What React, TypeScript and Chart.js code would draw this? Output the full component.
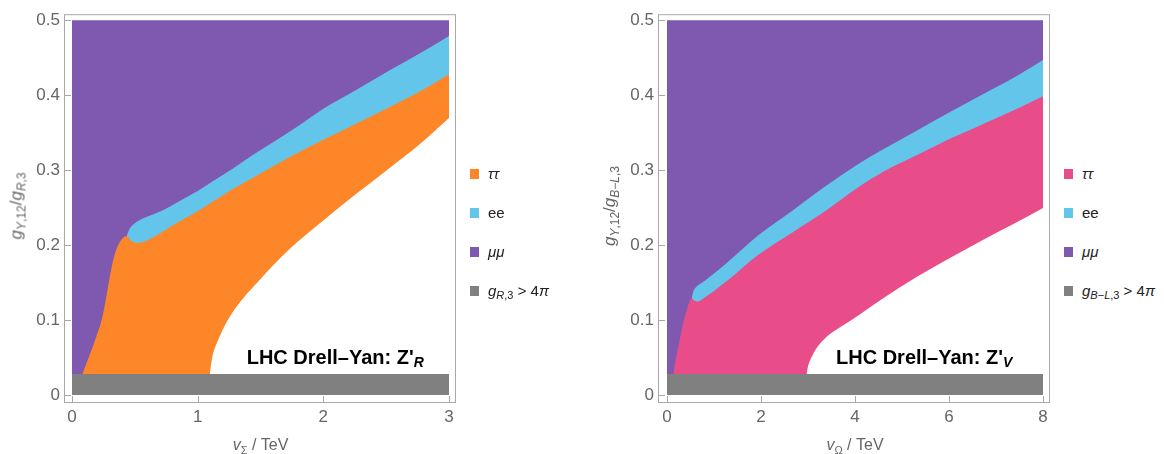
import React, { useEffect, useRef } from "react";
import { Chart, registerables } from "chart.js";

Chart.register(...registerables);

const FONT = "'Liberation Sans', Arial, Helvetica, sans-serif";

// ---- axes ----
const yTicks = [0, 0.1, 0.2, 0.3, 0.4, 0.5];
const xTicksR = [0, 1, 2, 3];
const xTicksV = [0, 2, 4, 6, 8];
const yRange = [-8 / 756, 0.5 + 6 / 756];
const xRangeR = [-24 / 377, 3 + 21 / 377];
const xRangeV = [-9 / 47, 8 + 7 / 47];

// ---- colours ----
const colMumu = "#7F58AF";
const colEe = "#64C5EB";
const colTauR = "#FD8628";
const colTauV = "#E84D8A";
const colGap = "#808080";
const colAllowed = "#ffffff";

// ---- Z'_R panel (v_Sigma / TeV) ----
const rMumuX = [0, 3];
const rMumuY = [0.5, 0.5];
const rEeX = [0.435, 0.46, 0.5, 0.573, 0.65, 0.732, 0.85, 1.0, 1.13, 1.263, 1.42, 1.6, 1.8, 2.0, 2.26, 2.525, 2.79, 3.0];
const rEeY = [0.212, 0.222, 0.229, 0.236, 0.241, 0.247, 0.258, 0.272, 0.286, 0.3, 0.318, 0.337, 0.359, 0.382, 0.407, 0.433, 0.458, 0.479];
const rTauX = [0.082, 0.135, 0.194, 0.242, 0.273, 0.3, 0.334, 0.374, 0.435, 0.467, 0.507, 0.573, 0.652, 0.732, 0.85, 1.0, 1.263, 1.528, 1.729, 1.995, 2.26, 2.525, 2.79, 3.0];
const rTauY = [0.028, 0.051, 0.078, 0.104, 0.131, 0.157, 0.184, 0.202, 0.212, 0.206, 0.203, 0.2046, 0.2107, 0.219, 0.231, 0.245, 0.273, 0.298, 0.317, 0.34, 0.362, 0.384, 0.407, 0.428];
const rAllowedX = [1.096, 1.117, 1.157, 1.21, 1.289, 1.369, 1.475, 1.597, 1.729, 1.995, 2.26, 2.525, 2.79, 3.0];
const rAllowedY = [0.028, 0.051, 0.071, 0.0908, 0.113, 0.1305, 0.15, 0.1724, 0.1945, 0.232, 0.268, 0.3025, 0.3378, 0.3695];
const rGapX = [0, 3];
const rGapY = [0.028, 0.028];

// ---- Z'_V panel (v_Omega / TeV) ----
const vMumuX = [0, 8];
const vMumuY = [0.5, 0.5];
const vEeX = [0.525, 0.56, 0.62, 0.75, 0.9, 1.234, 1.943, 2.652, 3.362, 4.07, 4.61, 5.32, 6.03, 6.74, 7.45, 8.0];
const vEeY = [0.129, 0.138, 0.144, 0.15, 0.157, 0.174, 0.213, 0.245, 0.278, 0.308, 0.328, 0.353, 0.378, 0.402, 0.426, 0.447];
const vTauX = [0.135, 0.17, 0.241, 0.326, 0.418, 0.489, 0.525, 0.58, 0.652, 0.809, 1.234, 1.943, 2.652, 3.362, 4.07, 4.61, 5.32, 6.03, 6.74, 7.45, 8.0];
const vTauY = [0.028, 0.042, 0.0644, 0.0908, 0.113, 0.126, 0.129, 0.126, 0.1248, 0.1305, 0.15, 0.187, 0.216, 0.245, 0.277, 0.298, 0.32, 0.342, 0.362, 0.382, 0.3986];
const vAllowedX = [2.97, 3.0, 3.08, 3.2, 3.36, 3.55, 3.75, 4.07, 4.6, 5.3, 6.0, 6.7, 7.4, 8.0];
const vAllowedY = [0.028, 0.038, 0.051, 0.064, 0.0755, 0.085, 0.093, 0.106, 0.129, 0.157, 0.182, 0.206, 0.229, 0.2495];
const vGapX = [0, 8];
const vGapY = [0.028, 0.028];

const mk = (label: string, xs: number[], ys: number[], color: string, order: number) => ({
  label,
  data: xs.map((x, i) => ({ x, y: ys[i] })),
  backgroundColor: color,
  borderColor: color,
  borderWidth: 0,
  pointRadius: 0,
  fill: "origin",
  order,
  cubicInterpolationMode: "monotone",
});

const framePlugin = {
  id: "mmaFrame",
  afterDraw(chart: any) {
    const { ctx, chartArea: a, scales } = chart;
    ctx.save();
    ctx.strokeStyle = "#a8a8a8";
    ctx.lineWidth = 1;
    ctx.strokeRect(a.left + 0.5, a.top + 0.5, a.right - a.left - 1, a.bottom - a.top - 1);
    ctx.beginPath();
    for (const t of scales.x.ticks) {
      const px = Math.round(scales.x.getPixelForValue(t.value)) + 0.5;
      ctx.moveTo(px, a.bottom);
      ctx.lineTo(px, a.bottom - 7);
    }
    for (const t of scales.y.ticks) {
      const py = Math.round(scales.y.getPixelForValue(t.value)) + 0.5;
      ctx.moveTo(a.left, py);
      ctx.lineTo(a.left + 7, py);
    }
    ctx.stroke();
    ctx.restore();
  },
};

type PanelProps = {
  left: number;
  width: number;
  yAxisWidth: number;
  xTicks: number[];
  xRange: number[];
  datasets: any[];
};

function Panel({ left, width, yAxisWidth, xTicks, xRange, datasets }: PanelProps) {
  const ref = useRef<HTMLCanvasElement | null>(null);
  useEffect(() => {
    if (!ref.current) return;
    const tickFont = { family: FONT, size: 17 };
    const chart = new Chart(ref.current, {
      type: "line",
      data: { datasets },
      options: {
        animation: false,
        responsive: false,
        events: [],
        layout: { padding: { left: 0, top: 11, right: 4, bottom: 0 } },
        plugins: { legend: { display: false }, tooltip: { enabled: false } },
        scales: {
          x: {
            type: "linear",
            min: xRange[0],
            max: xRange[1],
            afterBuildTicks: (s: any) => {
              s.ticks = xTicks.map((v) => ({ value: v }));
            },
            afterFit: (s: any) => {
              s.height = 51;
            },
            ticks: {
              font: tickFont,
              color: "#666666",
              padding: 4,
              maxRotation: 0,
              autoSkip: false,
              callback: (v: any) => String(v),
            },
            grid: { display: false, drawTicks: false },
            border: { display: false },
          },
          y: {
            type: "linear",
            min: yRange[0],
            max: yRange[1],
            afterBuildTicks: (s: any) => {
              s.ticks = yTicks.map((v) => ({ value: v }));
            },
            afterFit: (s: any) => {
              s.width = yAxisWidth;
            },
            ticks: {
              font: tickFont,
              color: "#666666",
              padding: 4,
              autoSkip: false,
              callback: (v: any) => (Number(v) === 0 ? "0" : Number(v).toFixed(1)),
            },
            grid: { display: false, drawTicks: false },
            border: { display: false },
          },
        },
      } as any,
      plugins: [framePlugin],
    });
    return () => chart.destroy();
  }, []);
  return (
    <canvas
      ref={ref}
      width={width}
      height={454}
      style={{ position: "absolute", left, top: 0, width, height: 454, display: "block" }}
    />
  );
}

const Sub = ({ children, size = 11, dy = 4 }: { children: any; size?: number; dy?: number }) => (
  <span style={{ fontSize: size, position: "relative", top: dy }}>{children}</span>
);

const abs = (extra: any) => ({ position: "absolute" as const, whiteSpace: "nowrap" as const, ...extra });

function Legend({ left, textLeft, tauColor, gapLabel }: { left: number; textLeft: number; tauColor: string; gapLabel: any }) {
  const rows = [
    { c: tauColor, t: <i>ττ</i>, yc: 174 },
    { c: colEe, t: <span>ee</span>, yc: 213 },
    { c: colMumu, t: <i>μμ</i>, yc: 252 },
    { c: colGap, t: gapLabel, yc: 290.5 },
  ];
  return (
    <>
      {rows.map((r, i) => (
        <React.Fragment key={i}>
          <div style={abs({ left, top: r.yc - 5, width: 9, height: 10, background: r.c })} />
          <div
            style={abs({
              left: textLeft,
              top: r.yc + 5 - 12.7,
              font: `15px/15px ${FONT}`,
              color: "#222",
            })}
          >
            {r.t}
          </div>
        </React.Fragment>
      ))}
    </>
  );
}

export default function App() {
  const dsR = [
    mk("μμ", rMumuX, rMumuY, colMumu, 5),
    mk("ee", rEeX, rEeY, colEe, 4),
    mk("ττ", rTauX, rTauY, colTauR, 3),
    mk("allowed", rAllowedX, rAllowedY, colAllowed, 2),
    mk("g_R,3 > 4π", rGapX, rGapY, colGap, 1),
  ];
  const dsV = [
    mk("μμ", vMumuX, vMumuY, colMumu, 5),
    mk("ee", vEeX, vEeY, colEe, 4),
    mk("ττ", vTauX, vTauY, colTauV, 3),
    mk("allowed", vAllowedX, vAllowedY, colAllowed, 2),
    mk("g_B-L,3 > 4π", vGapX, vGapY, colGap, 1),
  ];

  const axisTitle = { font: `16px/16px ${FONT}`, color: "#666666" };
  const yTitle = { font: `17px/17px ${FONT}`, color: "#666666" };
  const note = { font: `bold 20px/20px ${FONT}`, color: "#000" };

  return (
    <div style={{ position: "absolute", left: 0, top: 0, width: 1164, height: 454, background: "#fff", overflow: "hidden" }}>
      <Panel left={0} width={460} yAxisWidth={64} xTicks={xTicksR} xRange={xRangeR} datasets={dsR} />
      <Panel left={590} width={464} yAxisWidth={68} xTicks={xTicksV} xRange={xRangeV} datasets={dsV} />

      {/* axis titles */}
      <div style={abs({ left: 260.5, top: 436.5, transform: "translateX(-50%)", ...axisTitle })}>
        <i>v</i>
        <Sub size={11} dy={4}>Σ</Sub> / TeV
      </div>
      <div style={abs({ left: 855, top: 436.5, transform: "translateX(-50%)", ...axisTitle })}>
        <i>v</i>
        <Sub size={11} dy={4}>Ω</Sub> / TeV
      </div>
      <div style={abs({ left: 17, top: 206, transform: "translate(-50%,-50%) rotate(-90deg)", ...yTitle })}>
        <i>g</i>
        <Sub size={12} dy={4}>
          <i>Y</i>,12
        </Sub>
        /<i>g</i>
        <Sub size={12} dy={4}>
          <i>R</i>,3
        </Sub>
      </div>
      <div style={abs({ left: 610, top: 206, transform: "translate(-50%,-50%) rotate(-90deg)", ...yTitle })}>
        <i>g</i>
        <Sub size={12} dy={4}>
          <i>Y</i>,12
        </Sub>
        /<i>g</i>
        <Sub size={12} dy={4}>
          <i>B</i>−<i>L</i>,3
        </Sub>
      </div>

      {/* annotations */}
      <div style={abs({ left: 246.7, top: 347.4, ...note })}>
        LHC Drell–Yan: Z'
        <span style={{ fontSize: 14, fontStyle: "italic", position: "relative", top: 3 }}>R</span>
      </div>
      <div style={abs({ left: 836, top: 347.4, ...note })}>
        LHC Drell–Yan: Z'
        <span style={{ fontSize: 14, fontStyle: "italic", position: "relative", top: 3 }}>V</span>
      </div>

      {/* legends */}
      <Legend
        left={470}
        textLeft={488}
        tauColor={colTauR}
        gapLabel={
          <span>
            <i>g</i>
            <Sub size={11} dy={3}>
              <i>R</i>,3
            </Sub>{" "}
            &gt; 4<i>π</i>
          </span>
        }
      />
      <Legend
        left={1064}
        textLeft={1082}
        tauColor={colTauV}
        gapLabel={
          <span>
            <i>g</i>
            <Sub size={11} dy={3}>
              <i>B</i>−<i>L</i>,3
            </Sub>{" "}
            &gt; 4<i>π</i>
          </span>
        }
      />
    </div>
  );
}
